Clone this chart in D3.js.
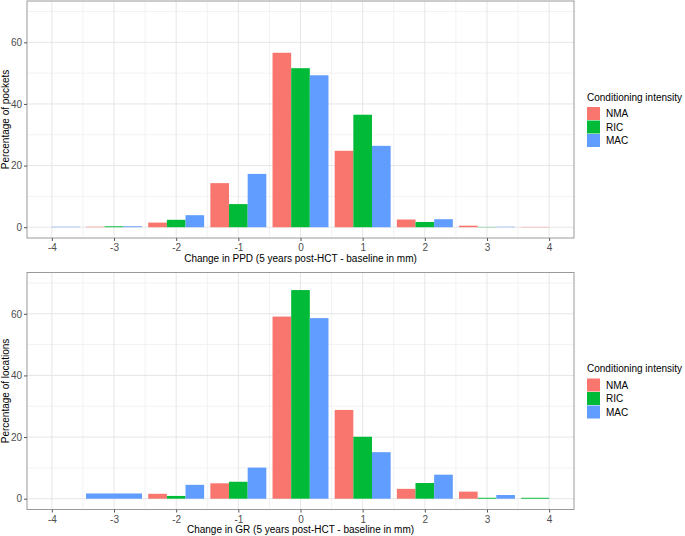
<!DOCTYPE html>
<html>
<head>
<meta charset="utf-8">
<script src="https://cdn.jsdelivr.net/npm/d3@7"></script>
<style>
  body { margin: 0; background: #fff; }
  svg { display: block; font-family: "Liberation Sans", Arial, sans-serif; }
</style>
</head>
<body>
<svg width="685" height="536"></svg>
<script>
// categories on the x axis (change in mm)
var changes = [-4, -3, -2, -1, 0, 1, 2, 3, 4];
var groups = ["NMA", "RIC", "MAC"];
var colors = ["#F8766D", "#00BA38", "#619CFF"];

// percentages, null = no bar in that slot
var ppdNMA = [null, 0.15, 1.5, 14.3, 56.6, 24.8, 2.5, 0.5, 0.1];
var ppdRIC = [0, 0.3, 2.4, 7.5, 51.6, 36.5, 1.7, 0.1, 0];
var ppdMAC = [0.15, 0.3, 3.9, 17.3, 49.3, 26.4, 2.6, 0.15, null];

var grNMA = [null, null, 1.6, 5.0, 59.1, 28.8, 3.2, 2.3, null];
var grRIC = [null, null, 0.9, 5.5, 67.7, 20.1, 5.1, 0.3, 0.3];
var grMAC = [null, 1.7, 4.5, 10.1, 58.6, 15.1, 7.8, 1.2, 0];

var yTicks = [0, 20, 40, 60];

var svg = d3.select("svg");

function drawPanel(top, bottom, series, xTitle, yTitle) {
    var left = 27, right = 574;
    var x = d3.scaleLinear().domain([-4.4, 4.4]).range([left, right]);
    var y = d3.scaleLinear().domain([-3.5, 73.4]).range([bottom, top]);

    var g = svg.append("g");

    // minor grid
    g.selectAll(".vminor").data(d3.range(-3.5, 4, 1)).enter().append("line")
        .attr("x1", d => x(d)).attr("x2", d => x(d))
        .attr("y1", top).attr("y2", bottom)
        .style("stroke", "#f2f2f2").style("stroke-width", 1);
    g.selectAll(".hminor").data([10, 30, 50, 70]).enter().append("line")
        .attr("x1", left).attr("x2", right)
        .attr("y1", d => y(d)).attr("y2", d => y(d))
        .style("stroke", "#f2f2f2").style("stroke-width", 1);
    // major grid
    g.selectAll(".vmajor").data(changes).enter().append("line")
        .attr("x1", d => x(d)).attr("x2", d => x(d))
        .attr("y1", top).attr("y2", bottom)
        .style("stroke", "#e6e6e6").style("stroke-width", 1);
    g.selectAll(".hmajor").data(yTicks).enter().append("line")
        .attr("x1", left).attr("x2", right)
        .attr("y1", d => y(d)).attr("y2", d => y(d))
        .style("stroke", "#e6e6e6").style("stroke-width", 1);

    // bars, dodged among the groups present at each x
    var bars = [];
    changes.forEach(function(c, i) {
        var present = [];
        series.forEach(function(s, k) {
            if (s[i] !== null) present.push({ k: k, v: s[i] });
        });
        var w = 0.9 / present.length;
        present.forEach(function(p, j) {
            bars.push({ x0: c - 0.45 + j * w, x1: c - 0.45 + (j + 1) * w, v: p.v, k: p.k });
        });
    });
    g.selectAll(".bar").data(bars).enter().append("rect")
        .attr("x", d => x(d.x0))
        .attr("width", d => x(d.x1) - x(d.x0))
        .attr("y", d => y(d.v))
        .attr("height", d => y(0) - y(d.v))
        .style("fill", d => colors[d.k]);

    // border
    g.append("rect")
        .attr("x", left).attr("y", top)
        .attr("width", right - left).attr("height", bottom - top)
        .style("fill", "none").style("stroke", "#9a9a9a").style("stroke-width", 1);

    // axes
    var xAxis = g.append("g").attr("transform", "translate(0," + bottom + ")")
        .call(d3.axisBottom(x).tickValues(changes).tickSize(3).tickPadding(3).tickFormat(d3.format("d")));
    var yAxis = g.append("g").attr("transform", "translate(" + left + ",0)")
        .call(d3.axisLeft(y).tickValues(yTicks).tickSize(3).tickPadding(2));
    [xAxis, yAxis].forEach(function(a) {
        a.select(".domain").remove();
        a.selectAll("line").style("stroke", "#555");
        a.selectAll("text").style("fill", "#4d4d4d").style("font-size", "10px")
            .style("font-family", "Liberation Sans, Arial, sans-serif");
    });
    xAxis.selectAll("text").text(d => d < 0 ? "-" + Math.abs(d) : d);

    g.append("text")
        .attr("x", (left + right) / 2).attr("y", bottom + 23.5)
        .attr("text-anchor", "middle")
        .style("font-size", "10px")
        .text(xTitle);
    g.append("text")
        .attr("transform", "translate(9," + (top + bottom) / 2 + ") rotate(-90)")
        .attr("text-anchor", "middle")
        .style("font-size", "10px")
        .text(yTitle);

    // legend
    var ly = (top + bottom) / 2 - 22.5;
    var lg = g.append("g").attr("transform", "translate(587," + ly + ")");
    lg.append("text").attr("x", 0).attr("y", 3.5)
        .style("font-size", "10px").text("Conditioning intensity");
    groups.forEach(function(name, k) {
        lg.append("rect")
            .attr("x", 0).attr("y", 10 + k * 13.5)
            .attr("width", 13).attr("height", 13)
            .style("fill", colors[k]);
        lg.append("text")
            .attr("x", 19).attr("y", 10 + k * 13.5 + 10)
            .style("font-size", "10px").text(name);
    });
}

drawPanel(1, 238, [ppdNMA, ppdRIC, ppdMAC],
    "Change in PPD (5 years post-HCT - baseline in mm)", "Percentage of pockets");
drawPanel(272.5, 509.5, [grNMA, grRIC, grMAC],
    "Change in GR (5 years post-HCT - baseline in mm)", "Percentage of locations");
</script>
</body>
</html>
